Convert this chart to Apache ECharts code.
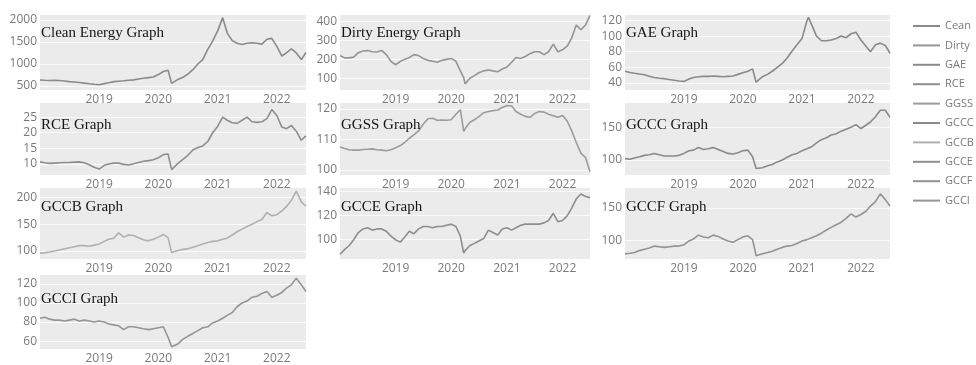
<!DOCTYPE html>
<html>
<head>
<meta charset="utf-8">
<script src="https://cdn.jsdelivr.net/npm/echarts@6/dist/echarts.min.js"></script>
<style>
  html, body { margin: 0; padding: 0; background: #ffffff; }
  #chart { width: 976px; height: 365px; }
</style>
</head>
<body>
<div id="chart"></div>
<script>
// Sampling dates shared by all ten index series (monthly, plus a few turning points)
const dates = [
  '2018-01-01','2018-02-01','2018-03-01','2018-04-01','2018-05-01','2018-06-01',
  '2018-07-01','2018-08-01','2018-09-01','2018-10-01','2018-11-01','2018-12-01',
  '2019-01-01','2019-02-01','2019-03-01','2019-04-01','2019-05-01','2019-06-01',
  '2019-07-01','2019-08-01','2019-09-01','2019-10-01','2019-11-01','2019-12-01',
  '2020-01-01','2020-02-01','2020-03-01','2020-03-23','2020-04-01','2020-05-01','2020-06-01',
  '2020-07-01','2020-08-01','2020-09-01','2020-10-01','2020-11-01','2020-12-01',
  '2021-01-01','2021-02-01','2021-02-10','2021-03-01','2021-04-01','2021-05-01','2021-06-01',
  '2021-07-01','2021-08-01','2021-09-01','2021-10-01','2021-11-01','2021-12-01',
  '2022-01-01','2022-02-01','2022-03-01','2022-04-01','2022-05-01','2022-06-01','2022-06-30'
];

const cleanValues = [
  636, 630, 625, 630, 625, 615, 600, 590, 580, 565, 550, 540,
  530, 555, 575, 600, 610, 620, 630, 640, 660, 675, 690, 705,
  760, 830, 860, 560, 580, 650, 700, 770, 870, 1000, 1100, 1330, 1520,
  1750, 2050, 2080, 1700, 1530, 1470, 1440, 1470, 1480, 1470, 1450, 1560, 1580,
  1400, 1180, 1250, 1340, 1250, 1100, 1260
];
const dirtyValues = [
  220, 208, 208, 212, 235, 244, 246, 240, 239, 247, 225, 190,
  172, 190, 200, 210, 225, 220, 205, 195, 190, 185, 195, 200,
  205, 190, 140, 105, 72, 100, 115, 130, 140, 145, 140, 135, 150,
  160, 185, 195, 210, 205, 215, 230, 240, 240, 225, 240, 280, 240,
  250, 270, 310, 380, 355, 380, 430
];
const gaeValues = [
  55, 53.5, 52.5, 51.5, 50.5, 48.5, 47, 46, 45.5, 44.5, 43.5, 42.5,
  42, 45, 47, 48, 48.5, 48.5, 49, 48.5, 48, 48.5, 49, 51,
  53, 55, 58, 41, 43, 48, 51, 55, 60, 65, 72, 81, 89,
  97, 120, 124, 115, 100, 94, 94, 95, 97, 100, 98, 103, 105,
  95, 87, 80, 89, 91, 88, 78
];
const rceValues = [
  10.7, 10.4, 10.2, 10.3, 10.4, 10.5, 10.5, 10.6, 10.7, 10.4, 9.8, 9.0,
  8.4, 9.6, 10.0, 10.3, 10.3, 9.9, 9.7, 10.1, 10.5, 10.9, 11.1, 11.4,
  12.0, 13.0, 13.2, 8.2, 8.8, 10.2, 11.5, 12.8, 14.5, 15.3, 15.8, 17.2, 20.0,
  22.0, 25.0, 25.5, 24.0, 23.2, 23.0, 24.0, 25.0, 23.5, 23.3, 23.5, 24.5, 27.4,
  25.5, 21.8, 21.3, 22.3, 20.5, 17.6, 19.0
];
const ggssValues = [
  107.5, 107.0, 106.6, 106.5, 106.5, 106.7, 106.8, 106.9, 106.6, 106.5, 106.3, 106.6,
  107.3, 108.0, 109.0, 110.4, 111.5, 112.8, 115.0, 116.8, 117.0, 116.3, 116.4, 116.3,
  116.5, 118.3, 119.8, 112.7, 113.5, 115.6, 116.5, 117.5, 118.8, 119.2, 119.5, 119.7, 120.5,
  121.2, 121.0, 120.9, 119.2, 118.3, 117.6, 117.3, 118.5, 119.2, 119.0, 118.3, 117.8, 117.3,
  117.9, 116.0, 113.0, 109.0, 105.5, 104.0, 99.4
];
const gcccValues = [
  102, 101, 103, 105, 107, 108, 110, 108, 106, 106, 106, 107,
  110, 114, 115, 119, 116, 117, 119, 116, 113, 110, 109, 111,
  114, 115, 105, 87, 84, 88, 91, 93, 97, 100, 104, 108, 110,
  114, 117, 118, 120, 126, 131, 134, 138, 140, 144, 147, 150, 154,
  148, 153, 158, 166, 176, 176, 165
];
const gccbValues = [
  96, 97, 98, 100, 102, 104, 106, 108, 110, 110, 109, 111,
  113, 118, 122, 124, 134, 126, 130, 129, 125, 121, 119, 122,
  126, 131, 125, 97, 99, 101, 103, 104, 107, 110, 113, 116, 118,
  119, 122, 123, 124, 130, 136, 141, 146, 150, 155, 159, 172, 166,
  168, 175, 183, 195, 212, 192, 184
];
const gcceValues = [
  88, 92, 95, 100, 106, 109, 110, 108, 109, 109, 107, 103,
  100, 98, 102, 107, 105, 109, 111, 111, 110, 111, 111, 112,
  113, 111, 103, 89, 91, 95, 97, 99, 101, 108, 106, 104, 109,
  110, 108, 108, 110, 112, 113, 113, 113, 113, 114, 116, 122, 115,
  116, 120, 126, 134, 138, 136, 135
];
const gccfValues = [
  79, 80, 81, 84, 86, 88, 91, 90, 89, 90, 91, 91,
  93, 99, 102, 108, 105, 104, 108, 106, 102, 99, 97, 101,
  105, 107, 101, 76, 77, 79, 81, 83, 86, 89, 91, 92, 95,
  99, 101, 102, 104, 107, 111, 116, 120, 124, 128, 134, 141, 136,
  140, 145, 153, 160, 172, 163, 153
];
const gcciValues = [
  84, 85, 83, 82, 82, 81, 82, 83, 81, 82, 81, 80,
  81, 80, 78, 77, 76, 72, 75, 75, 74, 73, 72, 73,
  74, 75, 64, 54, 55, 57, 62, 65, 68, 71, 74, 75, 79,
  81, 84, 85, 87, 90, 96, 100, 102, 106, 107, 110, 112, 106,
  108, 111, 115.5, 119, 126, 119, 112
];

// Tick labels
const yearTicks = [2019, 2020, 2021, 2022];
const cleanTicks = [500, 1000, 1500, 2000];
const dirtyTicks = [100, 200, 300, 400];
const gaeTicks = [40, 60, 80, 100, 120];
const rceTicks = [10, 15, 20, 25];
const ggssTicks = [100, 110, 120];
const gcccTicks = [100, 150];
const gccbTicks = [100, 150, 200];
const gcceTicks = [100, 120, 140];
const gccfTicks = [100, 150];
const gcciTicks = [60, 80, 100, 120];

// Series names (as shown in the legend) and panel titles
const seriesNames = ['Cean', 'Dirty', 'GAE', 'RCE', 'GGSS', 'GCCC', 'GCCB', 'GCCE', 'GCCF', 'GCCI'];
const panelTitles = ['Clean Energy Graph', 'Dirty Energy Graph', 'GAE Graph', 'RCE Graph', 'GGSS Graph',
                     'GCCC Graph', 'GCCB Graph', 'GCCE Graph', 'GCCF Graph', 'GCCI Graph'];

// Panel definitions: data, tick values and value-axis extent
const panels = [
  { values: cleanValues, ticks: cleanTicks, min: 410,  max: 2110, col: 0, row: 0, color: '#8a8a8a' },
  { values: dirtyValues, ticks: dirtyTicks, min: 40,   max: 432,  col: 1, row: 0, color: '#959595' },
  { values: gaeValues,   ticks: gaeTicks,   min: 31,   max: 127,  col: 2, row: 0, color: '#8a8a8a' },
  { values: rceValues,   ticks: rceTicks,   min: 6.5,  max: 29.5, col: 0, row: 1, color: '#8e8e8e' },
  { values: ggssValues,  ticks: ggssTicks,  min: 98.3, max: 122,  col: 1, row: 1, color: '#9c9c9c' },
  { values: gcccValues,  ticks: gcccTicks,  min: 77,   max: 187,  col: 2, row: 1, color: '#8a8a8a' },
  { values: gccbValues,  ticks: gccbTicks,  min: 85,   max: 218,  col: 0, row: 2, color: '#b0b0b0' },
  { values: gcceValues,  ticks: gcceTicks,  min: 84,   max: 143,  col: 1, row: 2, color: '#8e8e8e' },
  { values: gccfValues,  ticks: gccfTicks,  min: 71,   max: 181,  col: 2, row: 2, color: '#939393' },
  { values: gcciValues,  ticks: gcciTicks,  min: 51.7, max: 129.3,col: 0, row: 3, color: '#959595' }
];

// Layout of the panel grid
const columns = [ { left: 40, width: 266 }, { left: 340, width: 250 }, { left: 625, width: 265 } ];
const rows = [ { top: 15, height: 75, titleY: 33 }, { top: 103, height: 72, titleY: 125 },
               { top: 188, height: 71, titleY: 207 }, { top: 275, height: 75, titleY: 299 } ];

const labelColor = '#7a7a7a';
const labelFont = 'Open Sans';

// Dates are handled as local-time millisecond values on a numeric axis
function toTime(s) {
  const [y, m, d] = s.split('-').map(Number);
  return new Date(y, m - 1, d).getTime();
}
const xStart = toTime('2018-01-01');
const xEnd = toTime('2022-06-30');
const yearTickTimes = yearTicks.map(y => new Date(y, 0, 1).getTime());
const dateTimes = dates.map(toTime);

const chart = echarts.init(document.getElementById('chart'), null, { renderer: 'canvas' });

const option = {
  animation: false,
  backgroundColor: '#ffffff',
  title: panels.map((p, i) => ({
    text: panelTitles[i],
    left: columns[p.col].left + 1,
    top: rows[p.row].titleY - 9,
    padding: 0,
    textStyle: { fontFamily: 'Liberation Serif', fontSize: 15, fontWeight: 'normal', color: '#151515', lineHeight: 18 }
  })),
  legend: {
    orient: 'vertical',
    left: 913,
    top: 19,
    padding: 0,
    itemWidth: 27,
    itemHeight: 2,
    itemGap: 5.4,
    icon: 'rect',
    selectedMode: false,
    textStyle: { fontFamily: labelFont, fontSize: 11, color: '#7a7a7a', lineHeight: 14 },
    data: seriesNames
  },
  grid: panels.map(p => ({
    left: columns[p.col].left,
    width: columns[p.col].width,
    top: rows[p.row].top,
    height: rows[p.row].height,
    show: true,
    backgroundColor: '#ebebeb',
    borderWidth: 0
  })),
  xAxis: panels.map((p, i) => ({
    type: 'value',
    gridIndex: i,
    min: xStart,
    max: xEnd,
    axisLine: { show: false },
    axisTick: { show: false, customValues: yearTickTimes },
    splitLine: { show: false },
    axisLabel: {
      customValues: yearTickTimes,
      formatter: v => String(new Date(v).getFullYear()),
      color: labelColor, fontFamily: labelFont, fontSize: 12, margin: 4
    }
  })),
  yAxis: panels.map((p, i) => ({
    type: 'value',
    gridIndex: i,
    min: p.min,
    max: p.max,
    axisLine: { show: false },
    axisTick: { show: false, customValues: p.ticks },
    splitLine: { show: true, lineStyle: { color: '#fbfbfb', width: 1 } },
    axisLabel: {
      customValues: p.ticks,
      formatter: v => String(v),
      color: labelColor, fontFamily: labelFont, fontSize: 12, margin: 3
    }
  })),
  series: panels.map((p, i) => ({
    type: 'line',
    name: seriesNames[i],
    xAxisIndex: i,
    yAxisIndex: i,
    showSymbol: false,
    symbol: 'none',
    smooth: false,
    lineStyle: { width: 1.6, color: p.color },
    itemStyle: { color: p.color },
    data: dateTimes.map((t, j) => [t, p.values[j]])
  }))
};

chart.setOption(option);
</script>
</body>
</html>
